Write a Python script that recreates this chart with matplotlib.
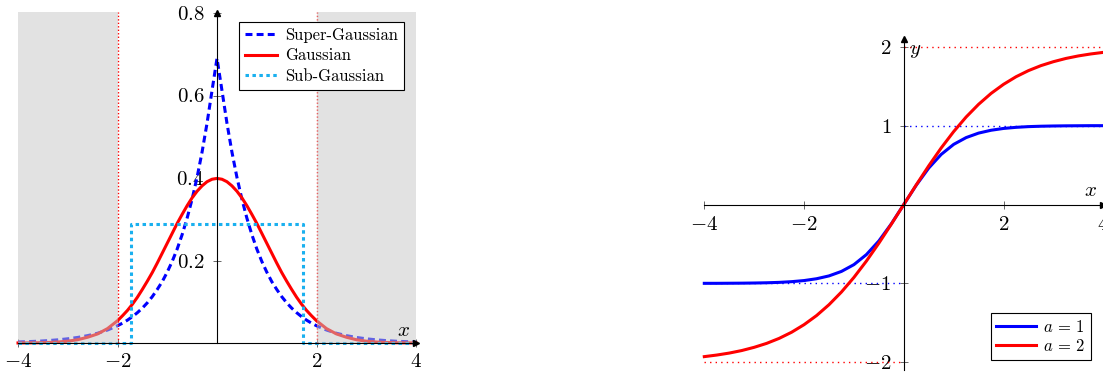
import numpy as np
import matplotlib
matplotlib.use('Agg')
import matplotlib.pyplot as plt

plt.rcParams['font.family'] = ['cmr10', 'DejaVu Serif']
plt.rcParams['mathtext.fontset'] = 'cm'
plt.rcParams['axes.formatter.use_mathtext'] = True
plt.rcParams['lines.scale_dashes'] = False

# left panel: densities with unit variance
x_half = [0.0, 0.1, 0.2, 0.3, 0.4, 0.5, 0.6, 0.7, 0.8, 0.9, 1.0,
          1.1, 1.2, 1.3, 1.4, 1.5, 1.6, 1.7, 1.8, 1.9, 2.0,
          2.2, 2.4, 2.6, 2.8, 3.0, 3.2, 3.4, 3.6, 3.8, 4.0]
super_half = [0.690, 0.612, 0.533, 0.463, 0.402, 0.349, 0.303, 0.263, 0.228, 0.198, 0.172,
              0.149, 0.130, 0.1125, 0.0976, 0.0847, 0.0736, 0.0639, 0.0554, 0.0481, 0.0418,
              0.0315, 0.0237, 0.0179, 0.0135, 0.0102, 0.0077, 0.0058, 0.0043, 0.0033, 0.0025]
gauss_half = [0.399, 0.397, 0.391, 0.381, 0.368, 0.352, 0.333, 0.312, 0.290, 0.266, 0.242,
              0.218, 0.194, 0.171, 0.150, 0.130, 0.111, 0.094, 0.079, 0.066, 0.054,
              0.035, 0.022, 0.014, 0.008, 0.0044, 0.0024, 0.0012, 0.0006, 0.0003, 0.0001]
sub_x = [-4, -1.73, -1.73, 1.73, 1.73, 4]
sub_y = [0, 0, 0.289, 0.289, 0, 0]
bound = 2

x_full = [-v for v in x_half[::-1]] + x_half[1:]
super_full = super_half[::-1] + super_half[1:]
gauss_full = gauss_half[::-1] + gauss_half[1:]

# right panel: a*tanh(x/a)
t_half = [0.0, 0.25, 0.5, 0.75, 1.0, 1.25, 1.5, 1.75, 2.0, 2.25, 2.5, 2.75,
          3.0, 3.25, 3.5, 3.75, 4.0]
a1_half = [0.0, 0.245, 0.462, 0.635, 0.762, 0.848, 0.905, 0.941, 0.964, 0.978, 0.987,
           0.992, 0.995, 0.997, 0.998, 0.999, 0.999]
a2_half = [0.0, 0.249, 0.490, 0.717, 0.924, 1.109, 1.270, 1.408, 1.523, 1.619, 1.697,
           1.760, 1.810, 1.851, 1.883, 1.908, 1.928]
t_full = [-v for v in t_half[::-1]] + t_half[1:]
a1_full = [-v for v in a1_half[::-1]] + a1_half[1:]
a2_full = [-v for v in a2_half[::-1]] + a2_half[1:]

fig = plt.figure(figsize=(11.03, 3.73), dpi=100)


def middle_axes(ax):
    ax.spines['left'].set_position(('data', 0))
    ax.spines['bottom'].set_position(('data', 0))
    ax.spines['top'].set_visible(False)
    ax.spines['right'].set_visible(False)
    for s in ['left', 'bottom']:
        ax.spines[s].set_linewidth(0.8)
        ax.spines[s].set_zorder(5)
    ax.plot(1, 0, '>k', ms=4, transform=ax.get_yaxis_transform(), clip_on=False, zorder=6)
    ax.plot(0, 1, '^k', ms=4, transform=ax.get_xaxis_transform(), clip_on=False, zorder=6)
    ax.tick_params(direction='inout', length=6, width=0.6, color='0.3', labelsize=15)
    ax.set_facecolor('none')


# ---- left
ax1 = fig.add_axes([18 / 1103, 30 / 373, 398 / 1103, 330 / 373])
ax1.set_xlim(-4, 4)
ax1.set_ylim(0, 0.8)
middle_axes(ax1)
ax1.set_xticks([-4, -2, 2, 4])
ax1.set_xticklabels(['$-4$', '$-2$', '$2$', '$4$'])
ax1.set_yticks([0.2, 0.4, 0.6, 0.8])
ax1.set_yticklabels(['$0.2$', '$0.4$', '$0.6$', '$0.8$'])
ax1.tick_params(axis='x', pad=4)
ax1.tick_params(axis='y', pad=6)

for lo, hi in [(-4, -bound), (bound, 4)]:
    ax1.fill_between([lo, hi], 0, 0.803, color='#c6c6c6', alpha=0.5, lw=0, zorder=4, clip_on=False)
for b in [-bound, bound]:
    ax1.plot([b, b], [0, 0.803], color='red', lw=1, ls=(0, (1, 1.5)), zorder=3, clip_on=False)

ax1.plot(x_full, super_full, color='blue', lw=2.2, ls=(0, (5, 3)), label='Super-Gaussian', clip_on=False)
ax1.plot(x_full, gauss_full, color='red', lw=2.2, label='Gaussian', clip_on=False)
ax1.plot(sub_x, sub_y, color='#1ab0ef', lw=2.2, ls=(0, (2.5, 2.5)), label='Sub-Gaussian', clip_on=False)
ax1.text(3.75, 0.008, '$x$', fontsize=15, ha='center', va='bottom', zorder=7)

leg1 = ax1.legend(loc='upper right', bbox_to_anchor=(0.970, 0.973), borderaxespad=0,
                  fontsize=12, fancybox=False, edgecolor='black', framealpha=1,
                  handlelength=1.9, labelspacing=0.3, borderpad=0.35, handletextpad=0.5)
leg1.get_frame().set_linewidth(0.8)
leg1.set_zorder(10)

# ---- right
ax2 = fig.add_axes([704.3 / 1103, 2.8 / 373, 399 / 1103, 331.4 / 373])
ax2.set_xlim(-4, 4)
ax2.set_ylim(-2.1, 2.1)
middle_axes(ax2)
ax2.set_xticks([-4, -2, 2, 4])
ax2.set_xticklabels(['$-4$', '$-2$', '$2$', '$4$'])
ax2.set_yticks([-2, -1, 1, 2])
ax2.set_yticklabels(['$-2$', '$-1$', '$1$', '$2$'])
ax2.tick_params(axis='x', pad=5)
ax2.tick_params(axis='y', pad=6)

ax2.plot([0, 4], [1, 1], color='blue', lw=1, ls=(0, (1, 3)), clip_on=False)
ax2.plot([-4, 0], [-1, -1], color='blue', lw=1, ls=(0, (1, 3)), clip_on=False)
ax2.plot([0, 4], [2, 2], color='red', lw=1, ls=(0, (1, 3)), clip_on=False)
ax2.plot([-4, 0], [-2, -2], color='red', lw=1, ls=(0, (1, 3)), clip_on=False)

ax2.plot(t_full, a1_full, color='blue', lw=2.2, label=r'$a\,=\,1$', clip_on=False)
ax2.plot(t_full, a2_full, color='red', lw=2.2, label=r'$a\,=\,2$', clip_on=False)
ax2.text(3.75, 0.06, '$x$', fontsize=15, ha='center', va='bottom')
ax2.text(0.1, 1.95, '$y$', fontsize=15, ha='left', va='center')

leg2 = ax2.legend(loc='upper right', bbox_to_anchor=(0.969, 0.1735), borderaxespad=0,
                  fontsize=12, fancybox=False, edgecolor='black', framealpha=1,
                  handlelength=2.4, labelspacing=0.2, borderpad=0.35, handletextpad=0.4)
leg2.get_frame().set_linewidth(0.8)
leg2.set_zorder(10)

fig.savefig('out.png', dpi=100)
